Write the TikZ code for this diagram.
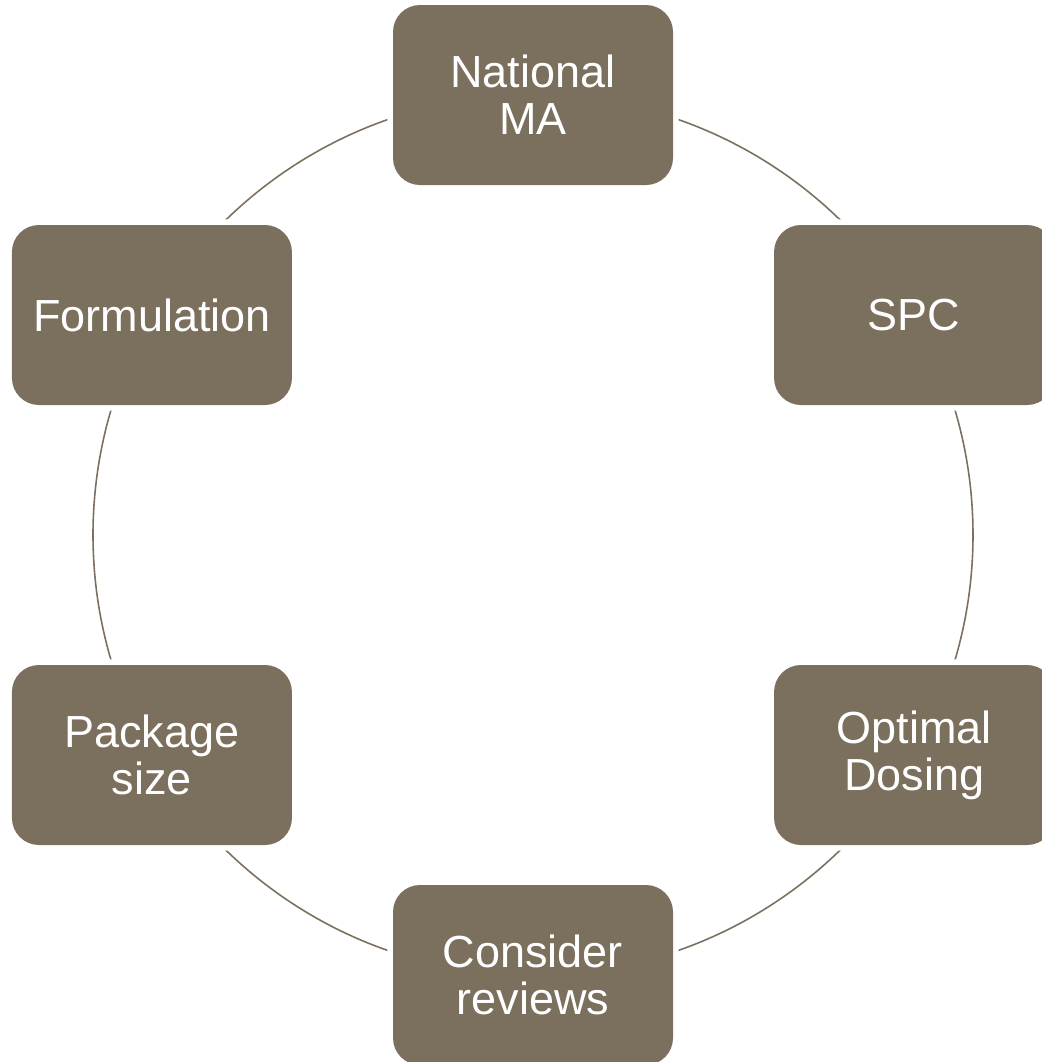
\documentclass[tikz,border=0pt]{standalone}
\usepackage{fontspec}
\setmainfont{Liberation Sans}
\definecolor{stonebrown}{HTML}{7B6F5D}
\begin{document}
\begin{tikzpicture}[
            stage/.style={rectangle, rounded corners=0.27cm, fill=stonebrown, minimum width=2.8cm, minimum height=1.8cm, text=white, text centered, align=center, font=\fontsize{12.8}{13.4}\selectfont, preaction={draw=white, line width=3.2pt}},
            ring/.style={draw=stonebrown, line width=0.45pt}
        ]
            \useasboundingbox (0,0) rectangle (10.41,-10.62);
            \coordinate (c) at (5.33,-5.35);
            \draw[ring] (c) circle[radius=4.4cm];
            
            \node[stage] (ma) at ([shift={(90:4.4)}]c) {National\\MA};
            \node[stage] (spc) at ([shift={(30:4.4)}]c) {SPC};
            \node[stage] (dosing) at ([shift={(-30:4.4)}]c) {Optimal\\Dosing};
            \node[stage] (reviews) at ([shift={(-90:4.4)}]c) {Consider\\reviews};
            \node[stage] (pack) at ([shift={(210:4.4)}]c) {Package\\size};
            \node[stage] (form) at ([shift={(150:4.4)}]c) {Formulation};
        \end{tikzpicture}
\end{document}
